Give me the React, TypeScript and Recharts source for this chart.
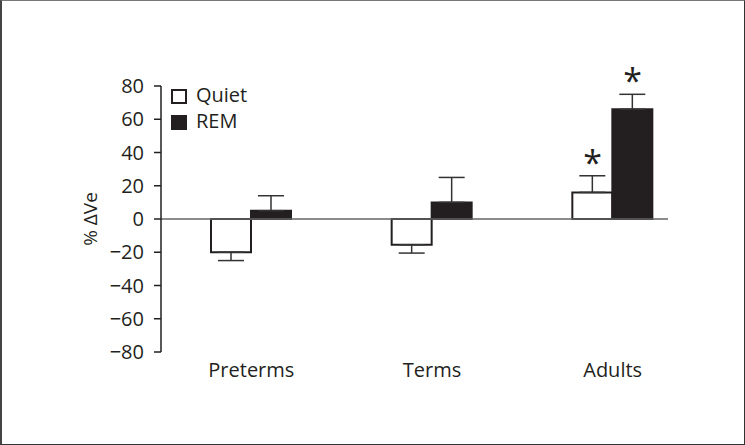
import {
  ComposedChart,
  Bar,
  Scatter,
  XAxis,
  YAxis,
  ReferenceLine,
  ErrorBar,
  Legend,
} from "recharts";

const groups = ["Preterms", "Terms", "Adults"];
const quiet = [-20, -15.5, 16];
const quietSem = [5, 5, 10];
const rem = [5, 10, 66];
const remSem = [9, 15, 9];
const quietSig = [false, false, true];
const remSig = [false, false, true];
const yTicks = [-80, -60, -40, -20, 0, 20, 40, 60, 80];

const FONT = '"Open Sans", "Noto Sans", sans-serif';
const INK = "#231f20";

// error bars only point away from zero
const oneSided = (v: number, e: number) => (v < 0 ? [e, 0] : [0, e]);

const data = groups.map((g, i) => ({
  group: g,
  quiet: quiet[i],
  rem: rem[i],
  quietErr: oneSided(quiet[i], quietSem[i]),
  remErr: oneSided(rem[i], remSem[i]),
  quietStar: quietSig[i] ? quiet[i] + quietSem[i] : null,
  remStar: remSig[i] ? rem[i] + remSem[i] : null,
}));

const series = [
  { key: "quiet", name: "Quiet", fill: "#ffffff" },
  { key: "rem", name: "REM", fill: INK },
];

const BAR = 40;

function star(shift: number) {
  return (p: any) => {
    if (p.cx == null || p.cy == null || Number.isNaN(p.cy)) return <g />;
    return (
      <text
        x={p.cx + shift}
        y={p.cy - 1}
        textAnchor="middle"
        fontSize={34}
        fontFamily={FONT}
        fill={INK}
      >
        *
      </text>
    );
  };
}

function LegendBox() {
  return (
    <div style={{ fontFamily: FONT, fontSize: 20, color: INK }}>
      {series.map((s) => (
        <div
          key={s.key}
          style={{ display: "flex", alignItems: "center", height: 26 }}
        >
          <span
            style={{
              display: "inline-block",
              width: 16,
              height: 15,
              boxSizing: "border-box",
              background: s.fill,
              border: `2px solid ${INK}`,
              marginRight: 9,
              transform: "translateY(2px)",
            }}
          />
          <span>{s.name}</span>
        </div>
      ))}
    </div>
  );
}

export default function App() {
  return (
    <div
      style={{
        position: "absolute",
        left: 0,
        top: 0,
        width: 745,
        height: 445,
        boxSizing: "border-box",
        borderTop: "1px solid #777",
        borderRight: "1px solid #333",
        borderBottom: "1px solid #333",
        borderLeft: "2px solid #444",
        background: "#fff",
      }}
    >
      <div style={{ position: "absolute", left: -2, top: -1 }}>
        <ComposedChart
          width={745}
          height={445}
          data={data}
          margin={{ top: 86, right: 77, bottom: 0, left: 0 }}
          barGap={0}
          barSize={BAR}
        >
          <XAxis
            dataKey="group"
            height={93}
            axisLine={false}
            tickLine={false}
            tickMargin={5}
            padding={{ left: 0, right: -35 }}
            tick={{ fontSize: 20, fill: INK, fontFamily: FONT }}
          />
          <YAxis
            width={161}
            domain={[-80, 80]}
            ticks={yTicks}
            interval={0}
            tickSize={7}
            tickMargin={10}
            tickFormatter={(v) => String(v).replace("-", "\u2212")}
            axisLine={{ stroke: INK, strokeWidth: 1.5 }}
            tickLine={{ stroke: INK, strokeWidth: 1.5 }}
            tick={{ fontSize: 20, fill: INK, fontFamily: FONT }}
            label={{
              value: "% \u0394Ve",
              angle: -90,
              position: "center",
              dx: 10,
              fontSize: 19,
              fill: INK,
              fontFamily: FONT,
            }}
          />
          <ReferenceLine y={0} stroke="#666" strokeWidth={1.5} />
          <Legend
            layout="vertical"
            align="center"
            verticalAlign="middle"
            wrapperStyle={{ left: 171, top: 81, width: 120 }}
            content={() => <LegendBox />}
          />
          {series.map((s) => (
            <Bar
              key={s.key}
              dataKey={s.key}
              name={s.name}
              fill={s.fill}
              stroke={INK}
              strokeWidth={2}
              isAnimationActive={false}
            >
              <ErrorBar
                dataKey={`${s.key}Err`}
                width={13}
                stroke="#333"
                strokeWidth={1.5}
                isAnimationActive={false}
              />
            </Bar>
          ))}
          <Scatter
            dataKey="quietStar"
            shape={star(-BAR / 2)}
            isAnimationActive={false}
            legendType="none"
          />
          <Scatter
            dataKey="remStar"
            shape={star(BAR / 2)}
            isAnimationActive={false}
            legendType="none"
          />
        </ComposedChart>
      </div>
    </div>
  );
}
